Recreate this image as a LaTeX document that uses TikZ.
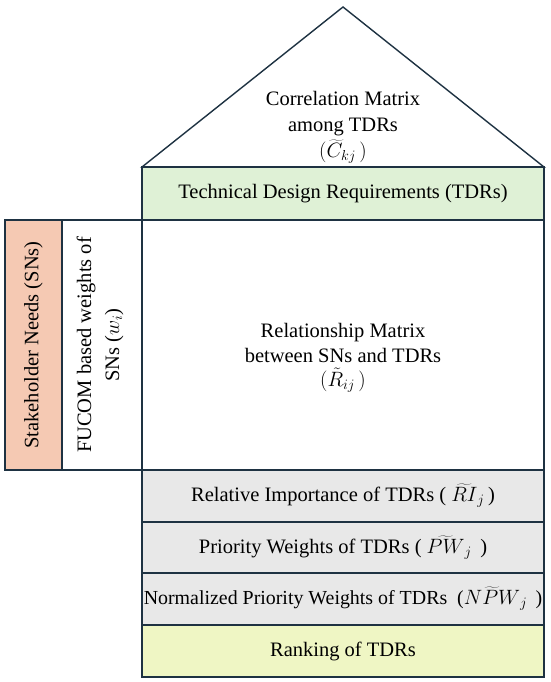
\documentclass[tikz,border=0pt]{standalone}
\usepackage{fontspec}
\setmainfont{Liberation Serif}
\definecolor{edge}{HTML}{1E3242}
\definecolor{snfill}{HTML}{F5C9B3}
\definecolor{tdrfill}{HTML}{DFF1D6}
\definecolor{grayfill}{HTML}{E8E8E8}
\definecolor{rankfill}{HTML}{EFF6C4}
\begin{document}
\begin{tikzpicture}[x=1pt,y=-1pt,
  txt/.style={align=center, inner sep=0pt, font=\fontsize{20.5}{24.5}\selectfont},
  box/.style={draw=edge, line width=1.4pt, rectangle, inner sep=0pt, minimum width=402pt, txt},
  sidebox/.style={draw=edge, line width=1.4pt, rectangle, inner sep=0pt, minimum height=250pt}]
\useasboundingbox (0,0) rectangle (550,682);
% roof
\coordinate (rl) at (142,167);
\coordinate (apex) at (343,7);
\coordinate (rr) at (544,167);
\draw[draw=edge, line width=1.4pt, fill=white, line join=miter] (rl) -- (apex) -- (rr) -- cycle;
\node[txt, font=\fontsize{20.5}{26}\selectfont] (corr) at (343,127) {Correlation Matrix\\among TDRs\\$(\widetilde{C}_{kj}\,)$};
% main column
\node[box, fill=tdrfill, minimum height=53pt] (tdr) at (343,193.5) {Technical Design Requirements (TDRs)};
\node[box, fill=white, minimum height=250pt] (rel) at (343,345) {};
\node[txt] (reltext) at (343,358) {Relationship Matrix\\between SNs and TDRs\\$(\tilde{R}_{ij}\,)$};
\node[box, fill=grayfill, minimum height=52pt] (ri) at (343,496) {Relative Importance of TDRs ( $\widetilde{RI}_j$\,)};
\node[box, fill=grayfill, minimum height=51pt] (pw) at (343,547.5) {Priority Weights of TDRs ( $\widetilde{PW}_j$\, )};
\node[box, fill=grayfill, minimum height=52pt, font=\fontsize{19.9}{24}\selectfont] (npw) at (343,599) {Normalized Priority Weights of TDRs\ \ ($\widetilde{NPW}_j$\, )};
\node[box, fill=rankfill, minimum height=52pt] (rank) at (343,651) {Ranking of TDRs};
% side boxes
\node[sidebox, fill=snfill, minimum width=57pt] (sn) at (33.5,345) {};
\node[txt, rotate=90] (sntext) at (sn.center) {Stakeholder Needs (SNs)};
\node[sidebox, fill=white, minimum width=80pt] (fucom) at (102,345) {};
\node[txt, rotate=90, font=\fontsize{20.5}{28}\selectfont] (fucomtext) at ([xshift=-2pt]fucom.center) {FUCOM based weights of\\SNs ($w_i$)};
\end{tikzpicture}
\end{document}
